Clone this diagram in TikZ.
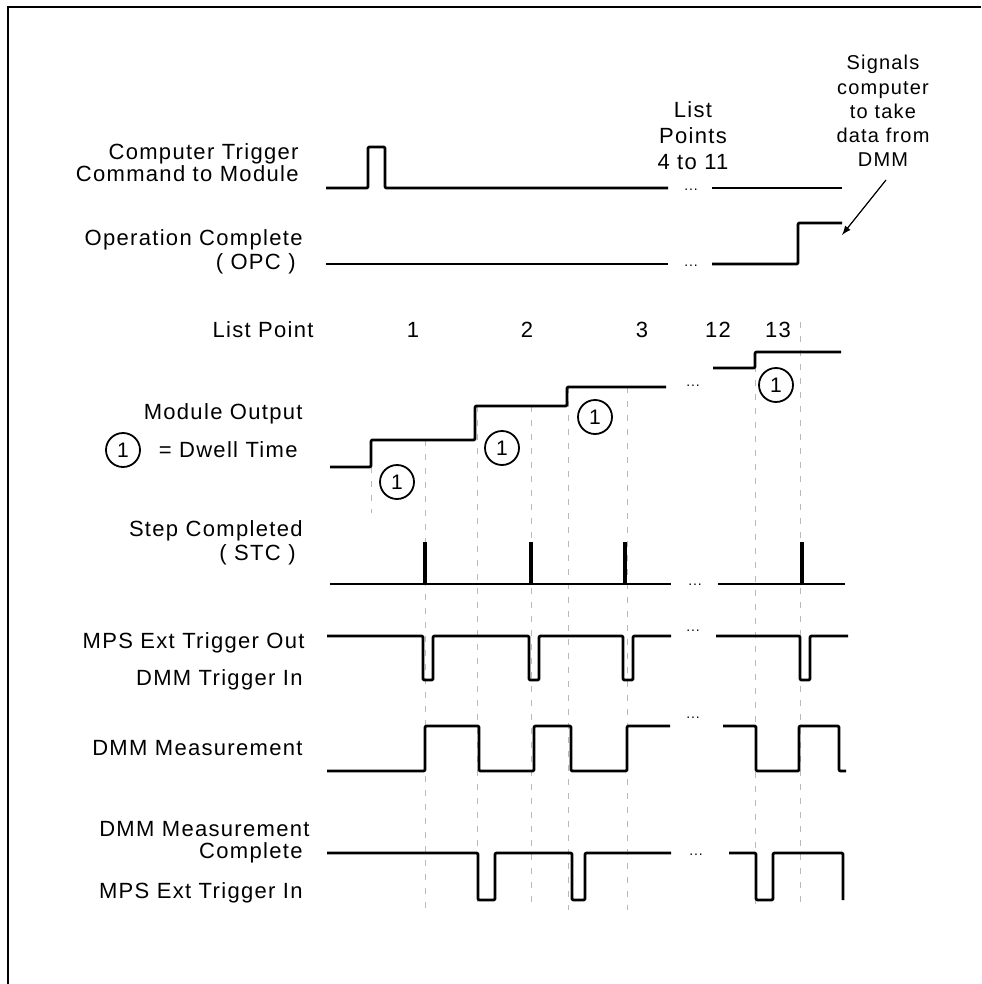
\documentclass[tikz,border=0pt]{standalone}
\usepackage{fontspec}
\setmainfont[LetterSpace=6]{Liberation Sans}
\usetikzlibrary{arrows}

\begin{document}
\begin{tikzpicture}[x=0.5pt,y=-0.5pt,
    lbl/.style={anchor=east,inner sep=0pt,font=\fontsize{11}{11}\selectfont},
    txt/.style={inner sep=0pt,align=center,font=\fontsize{11}{13}\selectfont},
    wave/.style={line width=1.4pt,line join=round,rounded corners=0.6pt},
    guide/.style={gray!55,line width=0.4pt,dash pattern=on 3pt off 4pt},
    dwell/.style={circle,draw,line width=0.9pt,inner sep=0pt,minimum size=17pt,font=\fontsize{10.5}{12}\selectfont},
    gap/.style={inner sep=0pt,font=\fontsize{7}{8}\selectfont}]
  \useasboundingbox (0,0) rectangle (981,984);
  \draw[line width=1pt] (8,984) -- (8,7) -- (981,7);

  % guide lines
  \draw[guide] (371,467) -- (371,513);
  \foreach \x/\y in {425/440, 477/406, 531/406, 568/387, 627/387, 755/352, 800/322}
    \draw[guide] (\x,\y) -- (\x,910);

  % computer trigger
  \node[lbl,align=right] (trg) at (299,163) {Computer Trigger\\Command to Module};
  \draw[wave] (326,188) -- (368,188) -- (368,147) -- (385,147) -- (385,188) -- (668,188);
  \draw[wave] (712,188) -- (842,188);
  \node[gap] (g1) at (691,190) {...};
  \node[txt] (lst) at (693,136) {List\\Points\\4 to 11};
  \node[txt,font=\fontsize{10}{12.1}\selectfont] (note) at (883,111) {Signals\\computer\\to take\\data from\\DMM};
  \coordinate (atail) at (886,180);
  \coordinate (ahead) at (842,235);
  \draw[-latex,line width=0.6pt] (atail) -- (ahead);

  % operation complete
  \node[lbl] (opc) at (303,240) {Operation Complete};
  \node[lbl] (opc2) at (296,264) {( OPC )};
  \draw[wave] (326,264) -- (668,264);
  \draw[wave] (712,264) -- (798,264) -- (798,223) -- (842,223);
  \node[gap] (g2) at (691,266) {...};

  % list points
  \node[lbl] (lp) at (314,330) {List Point};
  \foreach \x/\n in {413/1, 527/2, 642/3, 718/12, 778/13}
    \node[txt] (n\n) at (\x,330) {\n};

  % module output
  \node[lbl] (mo) at (303,414) {Module Output};
  \node[dwell] (key) at (123,450) {1};
  \node[lbl] (dw) at (298,450) {= Dwell Time};
  \draw[wave] (330,467) -- (371,467) -- (371,440) -- (475,440) -- (475,406)
    -- (567,406) -- (567,387) -- (666,387);
  \draw[wave] (713,368) -- (755,368) -- (755,352) -- (841,352);
  \node[gap] (g3) at (693,386) {...};
  \foreach \x/\y [count=\i] in {397/482, 502/448, 595/417, 776/385}
    \node[dwell] (d\i) at (\x,\y) {1};

  % step completed
  \node[lbl] (stc) at (303,531) {Step Completed};
  \node[lbl] (stc2) at (296,555) {( STC )};
  \draw[wave] (330,584) -- (671,584);
  \draw[wave] (718,584) -- (845,584);
  \foreach \x in {425, 531, 625, 802}
    \draw[line width=2.4pt] (\x,585) -- (\x,542);
  \node[gap] (g4) at (695,585) {...};

  % mps ext trigger out
  \node[lbl] (mto) at (305,643) {MPS Ext Trigger Out};
  \node[lbl] (dti) at (303,680) {DMM Trigger In};
  \draw[wave] (327,636) -- (423,636) -- (423,680) -- (433,680) -- (433,636)
    -- (529,636) -- (529,680) -- (539,680) -- (539,636)
    -- (623,636) -- (623,680) -- (633,680) -- (633,636) -- (671,636);
  \draw[wave] (716,636) -- (800,636) -- (800,680) -- (810,680) -- (810,636) -- (848,636);
  \node[gap] (g5) at (693,631) {...};

  % dmm measurement
  \node[lbl] (dm) at (303,748) {DMM Measurement};
  \draw[wave] (327,771) -- (425,771) -- (425,726) -- (479,726) -- (479,771)
    -- (534,771) -- (534,726) -- (571,726) -- (571,771)
    -- (627,771) -- (627,726) -- (670,726);
  \draw[wave] (723,726) -- (756,726) -- (756,771) -- (799,771) -- (799,726)
    -- (839,726) -- (839,771) -- (846,771);
  \node[gap] (g6) at (693,718) {...};

  % dmm measurement complete
  \node[lbl] (dmc) at (310,829) {DMM Measurement};
  \node[lbl] (dmc2) at (303,853) {Complete};
  \node[lbl] (mti) at (303,893) {MPS Ext Trigger In};
  \draw[wave] (327,853) -- (478,853) -- (478,900) -- (495,900) -- (495,853)
    -- (572,853) -- (572,900) -- (585,900) -- (585,853) -- (671,853);
  \draw[wave] (729,853) -- (756,853) -- (756,900) -- (773,900) -- (773,853)
    -- (843,853) -- (843,900);
  \node[gap] (g7) at (696,855) {...};
\end{tikzpicture}
\end{document}
